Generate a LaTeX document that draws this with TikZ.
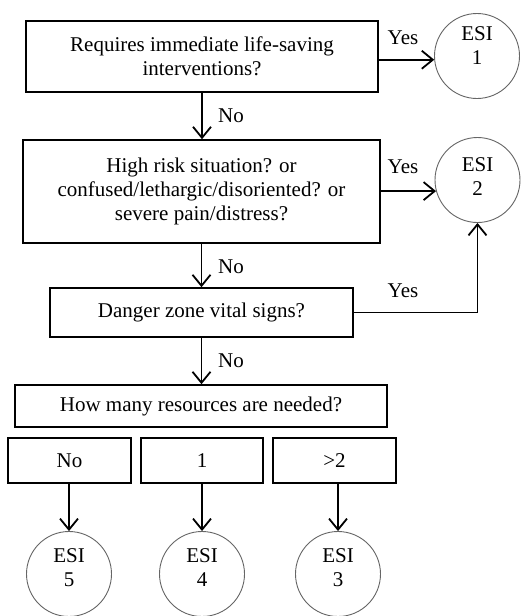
\documentclass[tikz,border=0pt]{standalone}
\usepackage{fontspec}
\setmainfont{Liberation Serif}
\usetikzlibrary{arrows.meta}
\begin{document}
\begin{tikzpicture}[x=1pt,y=-1pt,
  txt/.style={font=\fontsize{21}{24}\selectfont, align=center, inner sep=0pt},
  box/.style={draw, line width=1.6pt, rectangle, inner sep=0pt, align=center, font=\fontsize{21}{24}\selectfont},
  esi/.style={draw=black!60, line width=0.9pt, circle, minimum size=85pt, inner sep=0pt},
  arr/.style={line width=1.8pt, -{Straight Barb[length=11pt,width=18pt]}}
]
\useasboundingbox[fill=white] (0,0) rectangle (520,616);
% boxes
\node[box, minimum width=352pt, minimum height=71pt] (b1) at (202,56.5) {Requires immediate life-saving\\interventions?};
\node[box, minimum width=357pt, minimum height=103pt] (b2) at (201.5,191.5) {High risk situation? or\\confused/lethargic/disoriented? or\\severe pain/distress?};
\node[box, minimum width=303pt, minimum height=49pt] (b3) at (201.5,312.5) {Danger zone vital signs?};
\node[box, minimum width=372pt, minimum height=42pt] (b4) at (201,406) {How many resources are needed?};
\node[box, minimum width=123pt, minimum height=45pt] (r0) at (69.5,460.5) {No};
\node[box, minimum width=122pt, minimum height=45pt] (r1) at (202,460.5) {1};
\node[box, minimum width=123pt, minimum height=45pt] (r2) at (334.5,460.5) {>2};
% circles
\node[esi] (e1) at (477,56) {};
\node[esi] (e2) at (477.5,180) {};
\node[esi] (e5) at (69,574) {};
\node[esi] (e4) at (202,574) {};
\node[esi] (e3) at (338,574) {};
\node[txt] (t1) at (477,46) {ESI\\1};
\node[txt] (t2) at (477.5,177) {ESI\\2};
\node[txt] (t5) at (69,568) {ESI\\5};
\node[txt] (t4) at (202,568) {ESI\\4};
\node[txt] (t3) at (338,568) {ESI\\3};
% labels
\node[txt, anchor=base] (y1) at (403,44) {Yes};
\node[txt, anchor=base] (y2) at (403,173) {Yes};
\node[txt, anchor=base] (y3) at (403,297) {Yes};
\node[txt, anchor=base west] (n1) at (218,122) {No};
\node[txt, anchor=base west] (n2) at (218,273) {No};
\node[txt, anchor=base west] (n3) at (218,367) {No};
% connectors
\draw[arr] (b1.east |- e1.185) -- (e1.185);
\draw[arr] (b1.south) -- (b1.south |- b2.north);
\draw[arr] (b2.east |- e2.195) -- (e2.195);
\draw[arr] (b2.south) -- (b2.south |- b3.north);
\draw[arr] (b3.east) -| (e2.south);
\draw[arr] (b3.south) -- (b3.south |- b4.north);
\draw[arr] (e5 |- r0.south) -- (e5.north);
\draw[arr] (e4 |- r1.south) -- (e4.north);
\draw[arr] (e3 |- r2.south) -- (e3.north);
\end{tikzpicture}
\end{document}
